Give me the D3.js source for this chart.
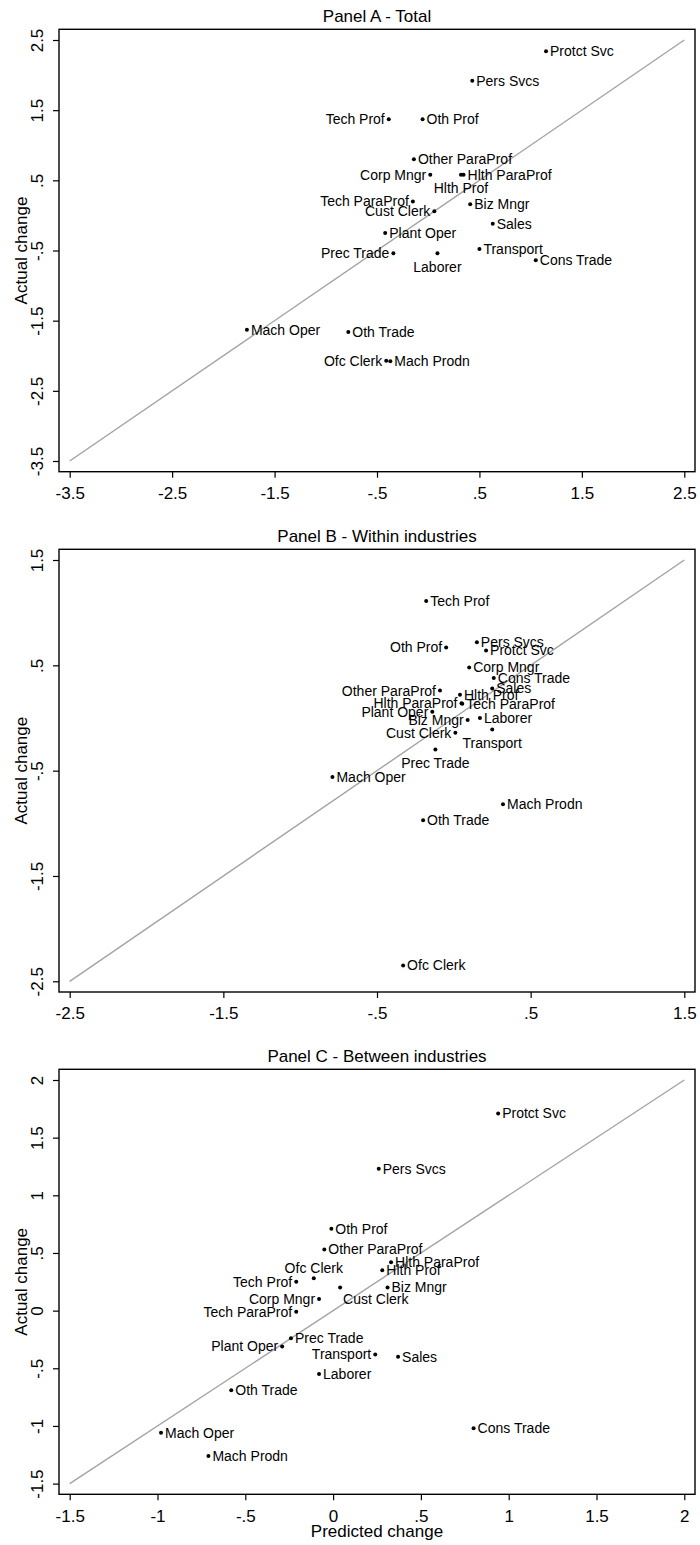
<!DOCTYPE html>
<html>
<head>
<meta charset="utf-8">
<script src="https://cdn.jsdelivr.net/npm/d3@7"></script>
<style>
  body { margin: 0; background: #fff; }
  text { font-family: "Liberation Sans", Arial, sans-serif; fill: #000; }
</style>
</head>
<body>
<svg id="chart" width="700" height="1545"></svg>
<script>
// occupations, same order in every panel
const occupations = ["Protct Svc", "Pers Svcs", "Tech Prof", "Oth Prof", "Other ParaProf", "Corp Mngr",
  "Hlth Prof", "Hlth ParaProf", "Tech ParaProf", "Cust Clerk", "Biz Mngr", "Sales", "Plant Oper",
  "Prec Trade", "Laborer", "Transport", "Cons Trade", "Mach Oper", "Oth Trade", "Ofc Clerk", "Mach Prodn"];

// Panel A - Total
const totalPred = [1.15, 0.43, -0.385, -0.055, -0.14, 0.02, 0.32, 0.345, -0.15, 0.06, 0.41, 0.63, -0.42,
  -0.34, 0.09, 0.50, 1.05, -1.77, -0.78, -0.41, -0.37];
const totalAct = [2.34, 1.92, 1.37, 1.37, 0.80, 0.58, 0.58, 0.58, 0.20, 0.06, 0.16, -0.12, -0.25,
  -0.54, -0.54, -0.48, -0.64, -1.63, -1.66, -2.07, -2.08];

// Panel B - Within industries
const withinPred = [0.21, 0.15, -0.18, -0.05, -0.09, 0.10, 0.04, 0.05, 0.055, 0.01, 0.09, 0.25, -0.14,
  -0.12, 0.17, 0.25, 0.26, -0.79, -0.20, -0.33, 0.32];
const withinAct = [0.64, 0.72, 1.11, 0.67, 0.26, 0.48, 0.22, 0.14, 0.135, -0.14, -0.02, 0.28, 0.06,
  -0.30, 0.00, -0.11, 0.38, -0.56, -0.97, -2.35, -0.82];

// Panel C - Between industries
const betweenPred = [0.94, 0.26, -0.21, -0.01, -0.05, -0.08, 0.28, 0.33, -0.21, 0.04, 0.31, 0.37, -0.29,
  -0.24, -0.08, 0.24, 0.80, -0.98, -0.58, -0.11, -0.71];
const betweenAct = [1.71, 1.23, 0.25, 0.71, 0.53, 0.10, 0.35, 0.42, -0.01, 0.20, 0.20, -0.40, -0.31,
  -0.24, -0.55, -0.38, -1.02, -1.06, -0.69, 0.28, -1.26];

// tick values (same on both axes of a panel)
const ticksA = [-3.5, -2.5, -1.5, -0.5, 0.5, 1.5, 2.5];
const ticksB = [-2.5, -1.5, -0.5, 0.5, 1.5];
const ticksC = [-1.5, -1, -0.5, 0, 0.5, 1, 1.5, 2];

// label clock positions (default 3 = right)
const labelPos = {
  A: {"Tech Prof": 9, "Corp Mngr": 9, "Hlth Prof": 6, "Tech ParaProf": 9, "Cust Clerk": 9,
      "Prec Trade": 9, "Laborer": 6, "Ofc Clerk": 9},
  B: {"Oth Prof": 9, "Other ParaProf": 9, "Hlth ParaProf": 9, "Plant Oper": 9, "Biz Mngr": 9,
      "Cust Clerk": 9, "Transport": 6, "Prec Trade": 6},
  C: {"Ofc Clerk": 12, "Tech Prof": 9, "Cust Clerk": 4, "Corp Mngr": 9, "Tech ParaProf": 9,
      "Plant Oper": 9, "Transport": 9}
};

const panels = [
  {key: "A", title: "Panel A - Total", pred: totalPred, act: totalAct, ticks: ticksA, top: 29.3, bottom: 471.7},
  {key: "B", title: "Panel B - Within industries", pred: withinPred, act: withinAct, ticks: ticksB, top: 549.3, bottom: 992},
  {key: "C", title: "Panel C - Between industries", pred: betweenPred, act: betweenAct, ticks: ticksC, top: 1069.3, bottom: 1494.3, xTitle: "Predicted change"}
];

const left = 59, right = 695, pad = 10.7;
const svg = d3.select("#chart");
svg.append("rect").attr("width", 700).attr("height", 1545).attr("fill", "#fff");

// stata style numbers: .5, -.5
function fmt(v) {
  return String(v).replace(/^(-?)0\./, "$1.");
}

function drawPanel(p) {
  const g = svg.append("g");
  const lo = p.ticks[0], hi = p.ticks[p.ticks.length - 1];
  const x = d3.scaleLinear([lo, hi], [left + pad, right - pad]);
  const y = d3.scaleLinear([lo, hi], [p.bottom - pad, p.top + pad]);

  const xAxis = d3.axisBottom(x).tickValues(p.ticks).tickFormat(fmt).tickSize(6).tickPadding(9.4);
  const yAxis = d3.axisLeft(y).tickValues(p.ticks).tickFormat(fmt).tickSize(6);

  const gx = g.append("g").attr("transform", `translate(0,${p.bottom})`).call(xAxis);
  const gy = g.append("g").attr("transform", `translate(${left},0)`).call(yAxis);
  [gx, gy].forEach(a => {
    a.select(".domain").remove();
    a.selectAll(".tick line").attr("stroke", "#000").attr("stroke-width", 1.2);
    a.selectAll(".tick text").style("font-size", "17px").attr("font-family", null);
  });
  gy.selectAll(".tick text")
    .attr("x", null).attr("dy", null)
    .attr("transform", "rotate(-90)")
    .attr("text-anchor", "middle")
    .attr("y", -15.7);

  // plot frame
  g.append("rect")
    .attr("x", left).attr("y", p.top)
    .attr("width", right - left).attr("height", p.bottom - p.top)
    .attr("fill", "none").attr("stroke", "#000").attr("stroke-width", 1.4);

  // 45 degree line
  g.append("line")
    .attr("x1", x(lo)).attr("y1", y(lo))
    .attr("x2", x(hi)).attr("y2", y(hi))
    .attr("stroke", "#a3a3a3").attr("stroke-width", 1.4);

  const pts = occupations.map((name, i) => ({name: name, px: p.pred[i], ay: p.act[i]}));

  g.selectAll("circle.pt")
    .data(pts)
    .enter()
    .append("circle")
    .attr("class", "pt")
    .attr("cx", d => x(d.px))
    .attr("cy", d => y(d.ay))
    .attr("r", 2)
    .attr("fill", "#000");

  g.selectAll("text.lbl")
    .data(pts)
    .enter()
    .append("text")
    .attr("class", "lbl")
    .style("font-size", "14px")
    .each(function (d) {
      const pos = labelPos[p.key][d.name] || 3;
      const t = d3.select(this);
      let cx = x(d.px), cy = y(d.ay), anchor = "start";
      if (pos === 3) { cx += 4; }
      else if (pos === 9) { cx -= 4; anchor = "end"; }
      else if (pos === 6) { cy += 13.5; anchor = "middle"; }
      else if (pos === 12) { cy -= 10; anchor = "middle"; }
      else if (pos === 4) { cx += 3; cy += 12; }
      t.attr("x", cx).attr("y", cy).attr("dy", "0.35em").attr("text-anchor", anchor).text(d.name);
    });

  // titles
  g.append("text")
    .attr("x", (left + right) / 2).attr("y", p.top - 7)
    .attr("text-anchor", "middle")
    .style("font-size", "17px")
    .text(p.title);

  g.append("text")
    .attr("transform", `translate(27,${(p.top + p.bottom) / 2}) rotate(-90)`)
    .attr("text-anchor", "middle")
    .style("font-size", "17px")
    .text("Actual change");

  if (p.xTitle) {
    g.append("text")
      .attr("x", (left + right) / 2).attr("y", p.bottom + 42.4)
      .attr("text-anchor", "middle")
      .style("font-size", "17px")
      .text(p.xTitle);
  }
}

panels.forEach(drawPanel);
</script>
</body>
</html>
